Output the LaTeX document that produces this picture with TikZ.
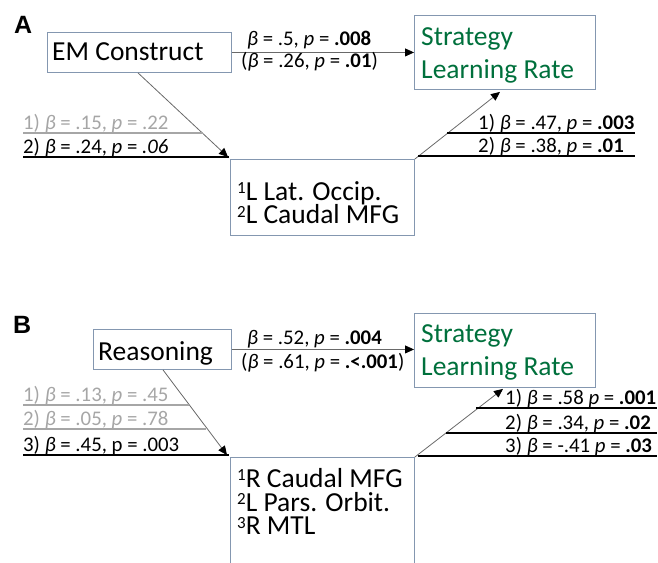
\documentclass[tikz,border=0pt]{standalone}
\usepackage{fontspec}
\setmainfont{Carlito}
\newfontfamily\panelfont{Liberation Sans}
\usetikzlibrary{arrows.meta}
\definecolor{boxc}{RGB}{132,151,176}
\definecolor{linec}{RGB}{105,105,105}
\definecolor{lgray}{RGB}{166,166,166}
\definecolor{sgreen}{RGB}{0,112,60}
\newcommand\bb{\textit{β}}
\newcommand\pp{\textit{p}}
\newcommand\supnum[1]{\raisebox{6.5pt}{\fontsize{17}{17}\selectfont #1}}
\begin{document}
\begin{tikzpicture}[x=1pt,y=-1pt,
 box/.style={draw=boxc, line width=0.9pt, inner sep=0pt, anchor=north west},
 boxtxt/.style={anchor=base west, inner sep=0pt, font=\fontsize{27.5}{27.5}\selectfont},
 medtxt/.style={anchor=north west, inner sep=0pt, align=left, font=\fontsize{27.5}{23.7}\selectfont},
 grn/.style={anchor=north west, inner sep=0pt, align=left, text=sgreen, font=\fontsize{27.5}{33}\selectfont},
 lab/.style={anchor=base west, inner sep=0pt, font=\fontsize{20.8}{20.8}\selectfont},
 glab/.style={lab, text=lgray},
 conn/.style={draw=linec, line width=0.8pt, -{Triangle[length=9pt,width=8pt,color=black]}},
 uline/.style={line width=1.5pt, black},
 guline/.style={line width=1.5pt, lgray},
 panel/.style={anchor=base west, inner sep=0pt, font=\panelfont\bfseries\fontsize{25}{25}\selectfont}]

\path[use as bounding box] (0,0) rectangle (658,562);
\clip (0,0) rectangle (658,562);

% ---------------- Panel A ----------------
\node[panel] (pA) at (14,33) {A};
\node[box, minimum width=184pt, minimum height=40pt] (em) at (47,32) {};
\node[box, minimum width=181pt, minimum height=74pt] (sA) at (414,15) {};
\node[box, minimum width=184pt, minimum height=76pt] (mA) at (230,159) {};

\node[boxtxt] (emt) at (52,60) {EM Construct};
\node[grn] (sAt) at (421,27) {Strategy\\Learning Rate};
\node[medtxt] (mAt) at (237,181) {\supnum{1}L Lat. Occip.\\\supnum{2}L Caudal MFG};

\draw[conn] (em.east) -- (sA.west);
\draw[conn] ([xshift=91pt]em.south west) -- ([xshift=-2pt,yshift=2pt]mA.north west);
\draw[conn] (mA.north east) -- ([xshift=86pt,yshift=-2pt]sA.south west);

\node[lab] (tA1) at (247,45) {\bb{} = .5, \pp{} = \textbf{.008}};
\node[lab] (tA2) at (241,67) {(\bb{} = .26, \pp{} = \textbf{.01})};
\node[glab] (lA1) at (23,129) {1) \bb{} = .15, \pp{} = .22};
\node[lab] (lA2) at (23,153) {2) \bb{} = .24, \pp{} = \textit{.06}};
\node[lab] (rA1) at (478,129) {1) \bb{} = .47, \pp{} = \textbf{.003}};
\node[lab] (rA2) at (478,152) {2) \bb{} = .38, \pp{} = \textbf{.01}};

\draw[guline] (23,133) -- (203,133);
\draw[uline] (23,157) -- (229,157);
\draw[uline] (447,133) -- (635,133);
\draw[uline] (418,156) -- (635,156);

% ---------------- Panel B ----------------
\node[panel] (pB) at (13,333) {B};
\node[box, minimum width=138pt, minimum height=40pt] (reas) at (93,329) {};
\node[box, minimum width=181pt, minimum height=74pt] (sB) at (414,313) {};
\node[box, minimum width=184pt, minimum height=115pt] (mB) at (230,457) {};

\node[boxtxt] (reast) at (98,360) {Reasoning};
\node[grn] (sBt) at (421,324) {Strategy\\Learning Rate};
\node[medtxt] (mBt) at (237,468) {\supnum{1}R Caudal MFG\\\supnum{2}L Pars. Orbit.\\\supnum{3}R MTL};

\draw[conn] (reas.east) -- (reas.east -| sB.west);
\draw[conn] ([xshift=70pt]reas.south west) -- ([xshift=-3pt,yshift=2pt]mB.north west);
\draw[conn] (mB.north east) -- ([xshift=89pt,yshift=-1pt]sB.south west);

\node[lab] (tB1) at (247,344) {\bb{} = .52, \pp{} = \textbf{.004}};
\node[lab] (tB2) at (241,368) {(\bb{} = .61, \pp{} = \textbf{.<.001})};
\node[glab] (lB1) at (23,401) {1) \bb{} = .13, \pp{} = .45};
\node[glab] (lB2) at (23,425) {2) \bb{} = .05, \pp{} = .78};
\node[lab] (lB3) at (23,451) {3) \bb{} = .45, p = .003};
\node[lab] (rB1) at (505,404) {1) \bb{} = .58 \pp{} = \textbf{.001}};
\node[lab] (rB2) at (505,429) {2) \bb{} = .34, \pp{} = \textbf{.02}};
\node[lab] (rB3) at (505,452) {3) \bb{} = -.41 \pp{} = \textbf{.03}};

\draw[guline] (23,405) -- (189,405);
\draw[guline] (23,429) -- (206,429);
\draw[uline] (23,455) -- (229,455);
\draw[uline] (476,408) -- (657,408);
\draw[uline] (446,433) -- (657,433);
\draw[uline] (418,456) -- (657,456);
\end{tikzpicture}
\end{document}
